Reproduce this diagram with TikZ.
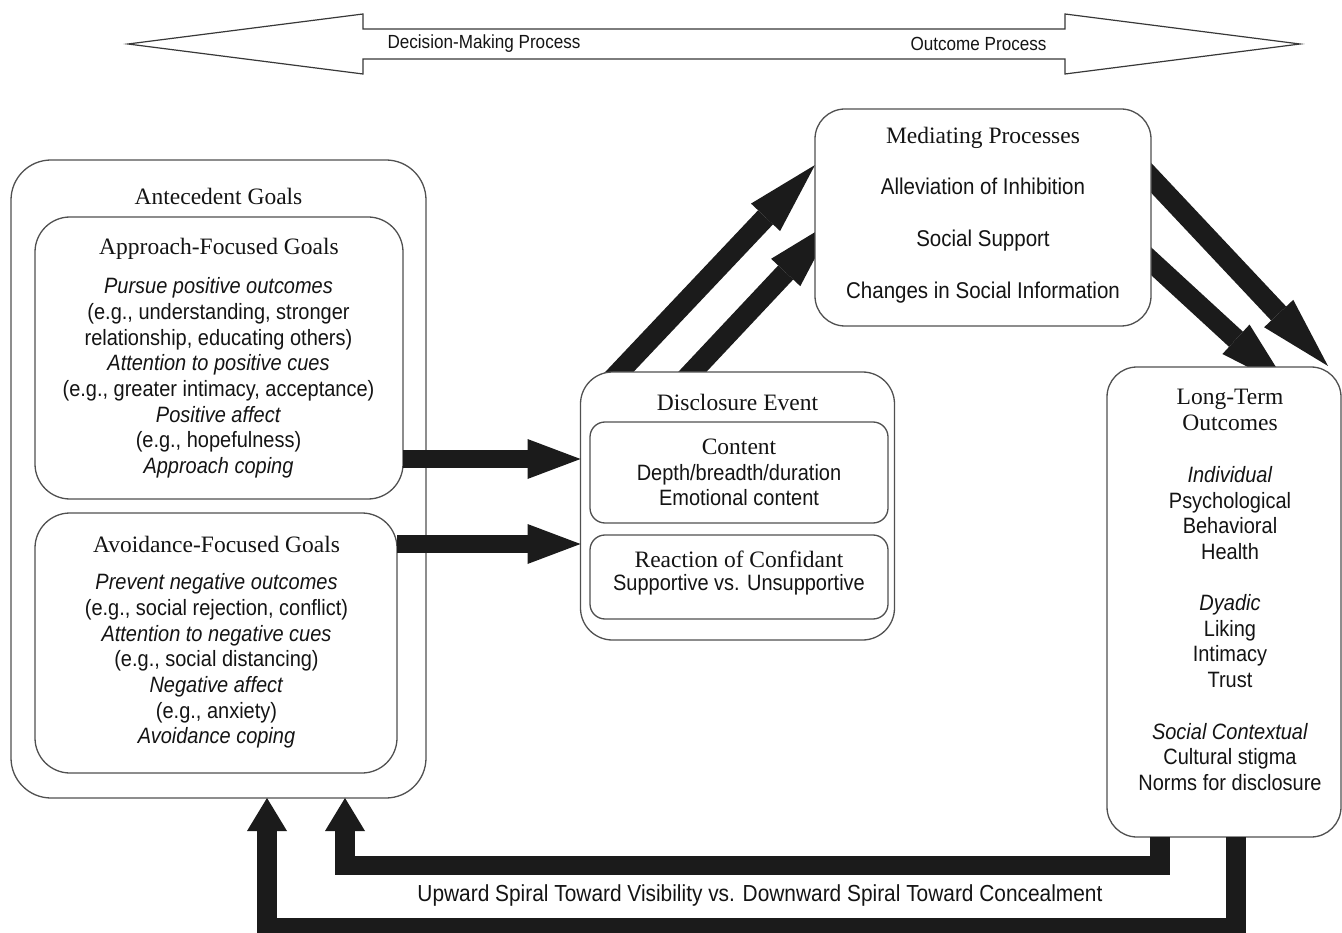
\documentclass[tikz,border=0pt]{standalone}
\usepackage{fontspec}
\setmainfont{Liberation Serif}
\newfontfamily\nsans[FakeStretch=0.9]{Liberation Sans}
\usetikzlibrary{arrows.meta,backgrounds}
\definecolor{ink}{HTML}{141414}
\definecolor{frame}{HTML}{505050}
\definecolor{fatc}{HTML}{1B1B1B}
\begin{document}
\begin{tikzpicture}[x=1pt,y=-1pt,
  box/.style={draw=frame,line width=1.3pt,rounded corners=#1,fill=white,inner sep=0pt,outer sep=0pt},
  box/.default=30pt,
  ttl/.style={font=\fontsize{23.5}{27}\selectfont,text=ink,inner sep=0pt,align=center},
  bod/.style={font=\nsans\fontsize{22.2}{25.7}\selectfont,text=ink,inner sep=0pt,align=center},
  lbl/.style={font=\nsans\fontsize{19}{22}\selectfont,text=ink,inner sep=0pt},
  fatarrow/.style={draw=fatc,line width=18pt,line cap=butt,-{Triangle[width=40pt,length=53pt,line width=0pt]}},
  slant/.style={draw=fatc,line width=20.5pt,line cap=butt,-{Triangle[width=40pt,length=72pt,line width=0pt]}},
  fback/.style={draw=fatc,line width=19.5pt,line cap=butt,line join=miter,-{Triangle[width=40pt,length=33pt,line width=0pt]}},
]
\useasboundingbox (0,0) rectangle (1342,933);

% top double arrow
\draw[draw=frame!70!black,line width=1.2pt,line join=miter] (128,44) -- (363,14) -- (363,29) -- (1065,29) -- (1065,14) -- (1300,44) -- (1065,74) -- (1065,59) -- (363,59) -- (363,74) -- cycle;
\node[lbl] (dm) at (484,44) {Decision-Making Process};
\node[lbl] (op) at (978.5,44) {Outcome Process};

% boxes
\node[box=40pt,fill=none,minimum width=415pt,minimum height=638pt] (outer) at (218.5,479) {};
\node[box=35pt,minimum width=368pt,minimum height=282pt] (app) at (219,358) {};
\node[box=35pt,minimum width=362pt,minimum height=260pt] (avo) at (216,643) {};
\node[box=32pt,minimum width=314pt,minimum height=268pt] (disc) at (737.5,506) {};
\node[box=15pt,minimum width=298pt,minimum height=101pt] (cont) at (739,472.5) {};
\node[box=15pt,minimum width=298pt,minimum height=84pt] (reac) at (739,577) {};
\node[box=30pt,minimum width=336pt,minimum height=217pt] (med) at (983,217.5) {};
\node[box=30pt,minimum width=234pt,minimum height=470pt] (lt) at (1224,602) {};

% texts
\node[ttl] (antT) at (218.5,196) {Antecedent Goals};
\node[ttl] (appT) at (219,249) {Approach-Focused Goals};
\node[bod] (appB) at (218.5,378) {\textit{Pursue positive outcomes}\\(e.g., understanding, stronger\\relationship, educating others)\\\textit{Attention to positive cues}\\(e.g., greater intimacy, acceptance)\\\textit{Positive affect}\\(e.g., hopefulness)\\\textit{Approach coping}};
\node[ttl] (avoT) at (216.5,544) {Avoidance-Focused Goals};
\node[bod] (avoB) at (216.5,661) {\textit{Prevent negative outcomes}\\(e.g., social rejection, conflict)\\\textit{Attention to negative cues}\\(e.g., social distancing)\\\textit{Negative affect}\\(e.g., anxiety)\\\textit{Avoidance coping}};
\node[ttl] (discT) at (737.5,402) {Disclosure Event};
\node[ttl] (contT) at (739,447) {Content};
\node[bod] (contB) at (739,485) {Depth/breadth/duration\\Emotional content};
\node[ttl] (reacT) at (739,559) {Reaction of Confidant};
\node[bod] (reacB) at (739,585) {Supportive vs. Unsupportive};
\node[ttl] (medT) at (983,138) {Mediating Processes};
\node[bod,font=\nsans\fontsize{22.8}{52}\selectfont] (medB) at (983,241) {Alleviation of Inhibition\\Social Support\\Changes in Social Information};
\node[ttl,font=\fontsize{23.5}{26}\selectfont] (ltT) at (1230,410) {Long-Term\\Outcomes};
\node[bod] (ltI) at (1230,513) {\textit{Individual}\\Psychological\\Behavioral\\Health};
\node[bod] (ltD) at (1230,641) {\textit{Dyadic}\\Liking\\Intimacy\\Trust};
\node[bod] (ltS) at (1230,757) {\textit{Social Contextual}\\Cultural stigma\\Norms for disclosure};
\node[bod,font=\nsans\fontsize{23.2}{27}\selectfont] (spiral) at (760,895) {Upward Spiral Toward Visibility vs. Downward Spiral Toward Concealment};

% slanted arrows under the boxes
\begin{scope}[on background layer]
\coordinate (s1) at (607,385);
\coordinate (s2) at (680,385);
\coordinate (t2) at (835,220);
\coordinate (s3) at (1140,166);
\coordinate (t3) at (1328,366);
\coordinate (s4) at (1140,251);
\coordinate (t4) at (1289,388);
\draw[slant] (s1) -- (med.west |- 0,165);
\draw[slant] (s2) -- (t2);
\draw[slant] (s3) -- (t3);
\draw[slant] (s4) -- (t4);
\end{scope}

% horizontal arrows
\draw[fatarrow] (app.east |- 0,459) -- (disc.west |- 0,459);
\draw[fatarrow] (avo.east |- 0,544) -- (disc.west |- 0,544);

% feedback loops
\draw[fback] (lt.south -| 1160,0) |- (345,865.5) -- (outer.south -| 345,0);
\draw[fback] (lt.south -| 1236,0) |- (267,928) -- (outer.south -| 267,0);
\end{tikzpicture}
\end{document}
